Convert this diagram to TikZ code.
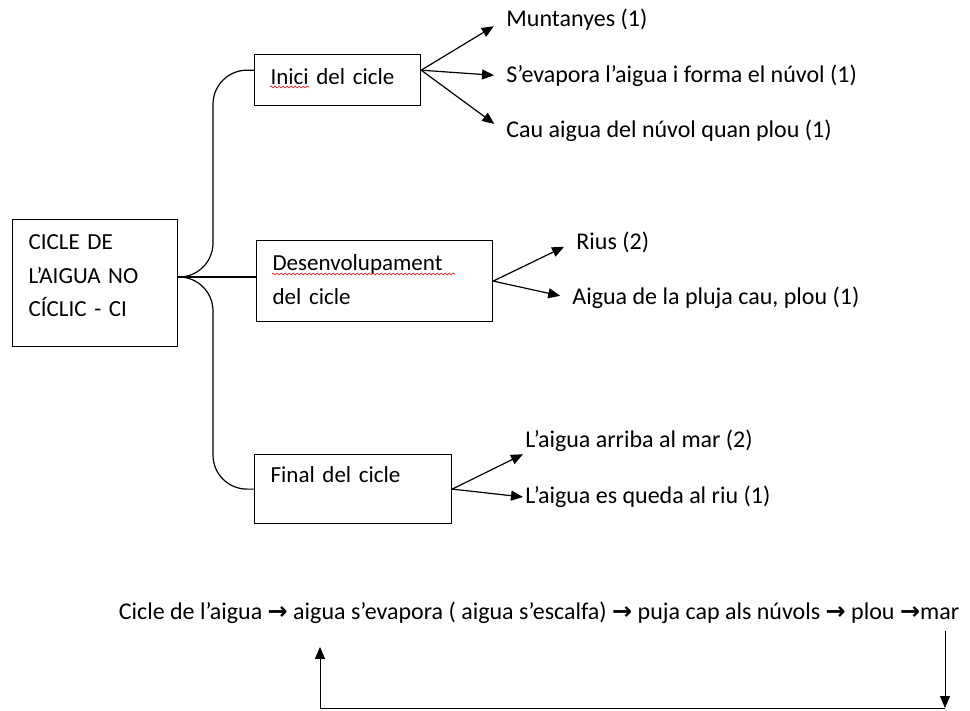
\documentclass[tikz,border=0pt]{standalone}
\usepackage{fontspec}
\setmainfont{Carlito}
\newfontfamily\arrowfont{DejaVu Sans}
\usetikzlibrary{arrows.meta,calc,positioning,decorations.pathmorphing}
\newcommand{\thickarr}{{\arrowfont\bfseries\char"2192}}

\begin{document}
\begin{tikzpicture}[x=0.5pt,y=-0.5pt,
    box/.style={draw,line width=0.6pt,anchor=north west,align=left,
                font=\fontsize{11.5}{16.75}\selectfont,
                inner xsep=8pt,inner ysep=7pt,text height=8pt},
    leaf/.style={anchor=west,inner sep=1pt,font=\fontsize{12}{14}\selectfont},
    branch/.style={line width=0.6pt,rounded corners=17pt},
    tip/.style={-{Triangle[length=6pt,width=5pt]},line width=0.6pt},
    squiggle/.style={red,line width=0.3pt,decorate,
                     decoration={snake,amplitude=0.5pt,segment length=2pt}}]
%
  \useasboundingbox (0,0) rectangle (970,711) ;
%
  \node [box,text width=66.5pt,text depth=41.5pt] (main) at (12,219)
        {CICLE DE\\L’AIGUA NO\\CÍCLIC - CI} ;
  \node [box,text width=67pt,text depth=3.5pt] (inici) at (254,54)
        {Inici del cicle} ;
  \node [box,text width=102pt,text depth=18.5pt] (desenv) at (256,240)
        {Desenvolupament\\del cicle} ;
  \node [box,text width=82.5pt,text height=7pt,text depth=13.5pt] (final) at (254,454)
        {Final del cicle} ;
%
  \draw [squiggle] ($(inici.north west)+(16,33)$) -- ++(39,0) ;
  \draw [squiggle] ($(desenv.north west)+(16,34)$) -- ++(183,0) ;
%
  \coordinate (fork) at (177,277) ;
  \coordinate (spine) at (213,277) ;
  \draw [branch] (fork) -- (spine) |- ($(inici.north west)!0.31!(inici.south west)$) ;
  \draw [branch] (fork) -- (spine) |- (final.west) ;
  \draw [line width=0.6pt] (fork) -- (fork -| desenv.west) ;
%
  \node [leaf] (muntanyes) at (504,20)  {Muntanyes (1)} ;
  \node [leaf] (evapora)   at (504,76)  {S’evapora l’aigua i forma el núvol (1)} ;
  \node [leaf] (cau)       at (504,131) {Cau aigua del núvol quan plou (1)} ;
%
  \coordinate (iniciOut) at ($(inici.north east)!0.31!(inici.south east)$) ;
  \draw [tip,shorten >=6pt] (iniciOut) -- (muntanyes.west) ;
  \draw [tip,shorten >=5pt] (iniciOut) -- (evapora.west) ;
  \draw [tip,shorten >=6pt] (iniciOut) -- (cau.west) ;
%
  \node [leaf] (rius)  at (574,242) {Rius (2)} ;
  \node [leaf] (pluja) at (570,298) {Aigua de la pluja cau, plou (1)} ;
%
  \draw [tip,shorten >=5.5pt] (desenv.east) -- (rius.west) ;
  \draw [tip,shorten >=5pt] (desenv.east) -- (pluja.west) ;
%
  \node [leaf] (mar) at (523,441) {L’aigua arriba al mar (2)} ;
  \node [leaf] (riu) at (523,497) {L’aigua es queda al riu (1)} ;
%
  \draw [tip] (final.east) -- (mar.south west) ;
  \draw [tip] (final.east) -- (riu.west) ;
%
  \node [font=\fontsize{12}{14}\selectfont] (cycle) at (539,613)
        {Cicle de l’aigua \thickarr{} aigua s’evapora ( aigua s’escalfa) \thickarr{} puja cap als núvols \thickarr{} plou \thickarr mar} ;
%
  \coordinate (loopR) at (945,708) ;
  \coordinate (loopL) at (320,708) ;
  \draw [tip,line width=0.5pt] (loopR |- cycle.south) -- (loopR) ;
  \draw [line width=0.5pt] (loopR) -- (loopL) ;
  \draw [tip,line width=0.5pt] (loopL) -- ($(loopL |- cycle.south)+(0,16)$) ;
%
\end{tikzpicture}
\end{document}
